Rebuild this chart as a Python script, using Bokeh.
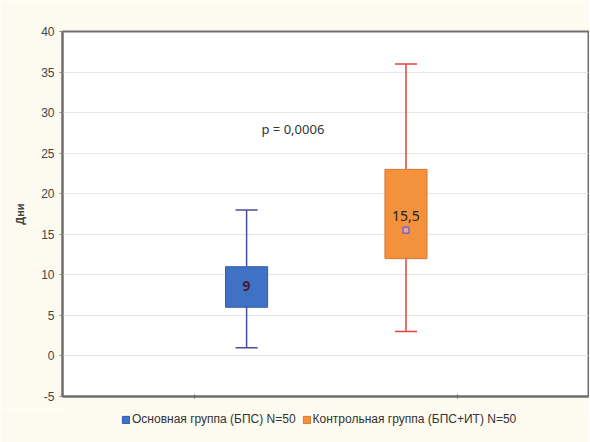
from bokeh.plotting import figure
from bokeh.layouts import column
from bokeh.models import Range1d, FixedTicker, Legend, LegendItem, Label, ColumnDataSource
from bokeh.embed import file_html
from bokeh.resources import INLINE

# ---- data ----
groups = ["Основная группа (БПС) N=50", "Контрольная группа (БПС+ИТ) N=50"]
w_low = [1, 3]
q1 = [6, 12]
median = [9, 15.5]
q3 = [11, 23]
w_high = [18, 36]
median_labels = ["9", "15,5"]
p_text = "p = 0,0006"
p_y = 28
y_ticks = [-5, 0, 5, 10, 15, 20, 25, 30, 35, 40]

# ---- layout (positions / styles) ----
xs = [0.35, 0.653]
box_w = 0.08
cap_w = 0.042
fills = ["#3f72c4", "#f4913c"]
edges = ["#2f5cab", "#d5772d"]
wcols = ["#4b4c9c", "#e8423a"]
cream = "#fdfaf0"

p = figure(frame_width=526, frame_height=365, output_backend="svg", toolbar_location=None,
           x_range=Range1d(0, 1), y_range=Range1d(-5, 40),
           min_border_left=62, min_border_top=31, min_border_right=1, min_border_bottom=12)
p.background_fill_color = "white"
p.border_fill_color = cream
p.outline_line_color = "#6e6e6e"
p.outline_line_width = 2

src = ColumnDataSource(dict(x=xs, lo=w_low, q1=q1, med=median, q3=q3, hi=w_high,
                            fill=fills, edge=edges, wc=wcols,
                            left=[x - box_w / 2 for x in xs], right=[x + box_w / 2 for x in xs],
                            cl=[x - cap_w / 2 for x in xs], cr=[x + cap_w / 2 for x in xs]))

p.segment(x0="x", y0="lo", x1="x", y1="q1", line_color="wc", line_width=1.5, source=src)
p.segment(x0="x", y0="q3", x1="x", y1="hi", line_color="wc", line_width=1.5, source=src)
p.segment(x0="cl", y0="lo", x1="cr", y1="lo", line_color="wc", line_width=1.5, source=src)
p.segment(x0="cl", y0="hi", x1="cr", y1="hi", line_color="wc", line_width=1.5, source=src)
p.quad(left="left", right="right", bottom="q1", top="q3", fill_color="fill",
       line_color="edge", line_width=1, source=src)

# median marker for second group
p.scatter(x=[xs[1]], y=[median[1]], marker="square", size=6, fill_color="#e8a0a8",
          line_color="#6a5acd", line_width=1.2)

# median labels
p.add_layout(Label(x=xs[0], y=median[0], y_offset=-3, text=median_labels[0], text_align="center",
                   text_baseline="middle", text_font="Noto Sans", text_font_size="14px",
                   text_font_style="bold", text_color="#4a1a35"))
p.add_layout(Label(x=xs[1], y=median[1], y_offset=14, text=median_labels[1], text_align="center",
                   text_baseline="middle", text_font="Noto Sans", text_font_size="14px",
                   text_color="#222222"))
p.add_layout(Label(x=0.438, y=p_y, text=p_text, text_align="center",
                   text_baseline="middle", text_font="Noto Sans", text_font_size="13px",
                   text_color="#333333"))

# axes
p.yaxis.ticker = FixedTicker(ticks=y_ticks)
p.yaxis.major_label_overrides = {-5: "-5"}
p.yaxis.axis_label = "Дни"
p.yaxis.axis_label_text_font = "Liberation Sans"
p.yaxis.axis_label_text_font_size = "11px"
p.yaxis.axis_label_text_font_style = "bold"
p.yaxis.axis_label_text_color = "#444444"
p.yaxis.axis_label_standoff = 12
p.yaxis.major_label_text_font = "Liberation Sans"
p.yaxis.major_label_text_font_size = "12px"
p.yaxis.major_label_text_color = "#444444"
p.yaxis.major_tick_in = 0
p.yaxis.major_tick_out = 3
p.yaxis.minor_tick_line_color = None
p.yaxis.axis_line_color = "#6e6e6e"
p.yaxis.axis_line_width = 2
p.yaxis.major_tick_line_color = "#888888"

p.xaxis.ticker = FixedTicker(ticks=[0.25, 0.75])
p.xaxis.major_label_overrides = {0.25: "", 0.75: ""}
p.xaxis.major_label_standoff = 0
p.xaxis.major_tick_in = 2
p.xaxis.major_tick_out = 2
p.xaxis.minor_tick_line_color = None
p.xaxis.axis_line_color = "#6e6e6e"
p.xaxis.axis_line_width = 2
p.xaxis.major_tick_line_color = "#666666"

p.xgrid.grid_line_color = None
p.ygrid.grid_line_color = "#e6e6e6"
p.ygrid.grid_line_width = 1

# ---- legend strip below the chart ----
p2 = figure(width=589, height=34, output_backend="svg", toolbar_location=None,
            x_range=Range1d(0, 1), y_range=Range1d(100, 101),
            x_axis_location=None, y_axis_location=None,
            min_border_left=0, min_border_right=0, min_border_top=0, min_border_bottom=0)
p2.background_fill_color = cream
p2.border_fill_color = cream
p2.outline_line_color = None
p2.grid.grid_line_color = None
proxy = p2.quad(left="left", right="right", bottom="q1", top="q3", fill_color="fill",
                line_color="edge", line_width=1, source=src)

legend = Legend(items=[LegendItem(label=groups[0], renderers=[proxy], index=0),
                       LegendItem(label=groups[1], renderers=[proxy], index=1)],
                orientation="horizontal", location=(59, 16),
                background_fill_alpha=0, border_line_color=None,
                label_text_font="Liberation Sans", label_text_font_size="12px",
                label_text_color="#333333", glyph_width=9, glyph_height=9, label_height=12,
                label_standoff=2, spacing=6, padding=0, margin=0)
p2.add_layout(legend, "center")

layout = column(p, p2, spacing=0)
open("out.html", "w").write(file_html(layout, INLINE))
